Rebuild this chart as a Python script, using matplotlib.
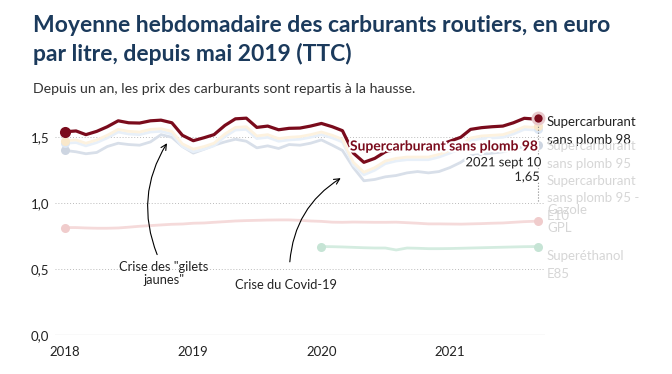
import matplotlib as mpl
import matplotlib.pyplot as plt
import matplotlib.patheffects as pe
import numpy as np
import pandas as pd

plt.rcParams["font.family"] = ["Lato", "DejaVu Sans"]

# %% Data (monthly samples + last week)

dates = list(pd.date_range("2018-01-01", "2021-09-01", freq="MS")) + [pd.Timestamp("2021-09-10")]

sp98 = [1.542, 1.548, 1.52, 1.545, 1.58, 1.625, 1.61, 1.608, 1.625, 1.63, 1.61, 1.515,
        1.474, 1.497, 1.52, 1.59, 1.64, 1.645, 1.575, 1.585, 1.557, 1.568, 1.57, 1.585,
        1.605, 1.58, 1.55, 1.38, 1.31, 1.34, 1.39, 1.41, 1.42, 1.42, 1.42, 1.44,
        1.47, 1.50, 1.56, 1.573, 1.58, 1.585, 1.61, 1.644, 1.638, 1.65]
sp95 = [1.475, 1.48, 1.455, 1.48, 1.515, 1.56, 1.545, 1.54, 1.56, 1.565, 1.545, 1.45,
        1.41, 1.43, 1.455, 1.525, 1.575, 1.58, 1.51, 1.52, 1.49, 1.50, 1.505, 1.52,
        1.54, 1.515, 1.485, 1.31, 1.235, 1.27, 1.32, 1.34, 1.35, 1.35, 1.35, 1.37,
        1.40, 1.435, 1.495, 1.51, 1.515, 1.52, 1.545, 1.58, 1.575, 1.585]
e10 = [1.455, 1.46, 1.435, 1.46, 1.495, 1.54, 1.525, 1.52, 1.54, 1.545, 1.525, 1.43,
       1.39, 1.41, 1.435, 1.505, 1.555, 1.56, 1.49, 1.50, 1.47, 1.48, 1.485, 1.50,
       1.52, 1.495, 1.465, 1.29, 1.215, 1.25, 1.30, 1.32, 1.33, 1.33, 1.33, 1.35,
       1.38, 1.415, 1.475, 1.49, 1.495, 1.50, 1.525, 1.56, 1.555, 1.565]
gazole = [1.40, 1.39, 1.375, 1.385, 1.43, 1.455, 1.445, 1.44, 1.465, 1.52, 1.50, 1.43,
          1.38, 1.41, 1.44, 1.465, 1.485, 1.47, 1.42, 1.435, 1.415, 1.445, 1.44, 1.455,
          1.48, 1.44, 1.40, 1.27, 1.17, 1.18, 1.20, 1.21, 1.23, 1.24, 1.23, 1.24,
          1.27, 1.31, 1.36, 1.37, 1.38, 1.39, 1.41, 1.43, 1.43, 1.44]
gpl = [0.815, 0.815, 0.812, 0.81, 0.81, 0.812, 0.818, 0.825, 0.83, 0.835, 0.84, 0.842,
       0.848, 0.85, 0.855, 0.86, 0.865, 0.868, 0.87, 0.872, 0.873, 0.873, 0.87, 0.865,
       0.862, 0.856, 0.855, 0.857, 0.856, 0.855, 0.855, 0.856, 0.852, 0.848, 0.843, 0.843,
       0.842, 0.841, 0.843, 0.845, 0.848, 0.85, 0.855, 0.86, 0.863, 0.866]
# E85 only published from 2020
e85 = [0.671, 0.67, 0.668, 0.665, 0.662, 0.66, 0.66, 0.645, 0.66, 0.658, 0.655,
       0.655, 0.656, 0.658, 0.66, 0.662, 0.664, 0.666, 0.668, 0.67, 0.671, 0.671]
e85_dates = dates[24:]

last_label = "2021 sept 10"
last_value = "1,65"

# %% Figure

W, H = 672, 374
fig = plt.figure(figsize=(W / 100, H / 100), dpi=100)
ax = fig.add_axes([55 / W, 39 / H, 490 / W, 225 / H])

faint = [
    (e85_dates, e85, "#d4ece0", "#c6e4d5"),
    (dates, gpl, "#f5dada", "#f0cccc"),
    (dates, gazole, "#d8dfe9", "#cdd5e1"),
    (dates, e10, "#e8f0f9", "#dce7f4"),
    (dates, sp95, "#fdf2df", "#f9e8cb"),
]
for x, y, c, cm in faint:
    ax.plot(x, y, c=c, lw=2, solid_capstyle="round", zorder=2)
    ax.plot([x[0], x[-1]], [y[0], y[-1]], "o", ms=6.5, c=cm, mec="none", zorder=2)

ax.plot(dates, sp98, c="#7a0b1c", lw=2.3, solid_capstyle="round", zorder=4)
ax.plot(dates[0], sp98[0], "o", ms=8, c="#7a0b1c", mec="none", zorder=5)
ax.plot(dates[-1], sp98[-1], "o", ms=8, c="#7a0b1c", mec="#e8c9cc", mew=2, zorder=5)
ax.vlines(dates[-1], 1.02, sp98[-1], colors="#888888", lw=0.8, linestyles=":", zorder=3)

halo = [pe.withStroke(linewidth=3, foreground="white")]
ax.annotate("Supercarburant sans plomb 98", (dates[-1], 1.43), xytext=(0, 0),
            textcoords="offset points", ha="right", va="center", fontsize=10,
            fontweight="bold", color="#7a0b1c", path_effects=halo, zorder=6)
ax.annotate(last_label, (dates[-1], 1.31), xytext=(2, 0), textcoords="offset points",
            ha="right", va="center", fontsize=9.3, color="#222222", path_effects=halo, zorder=6)
ax.annotate(last_value, (dates[-1], 1.20), xytext=(1, 0), textcoords="offset points",
            ha="right", va="center", fontsize=9.3, color="#222222", path_effects=halo, zorder=6)

# events
arrow = dict(arrowstyle="->", color="black", lw=0.8, shrinkA=0, shrinkB=0,
             connectionstyle="arc3,rad=-0.25")
ax.annotate("", xy=(pd.Timestamp("2018-10-18"), 1.455), xytext=(pd.Timestamp("2018-09-20"), 0.61),
            arrowprops=arrow)
ax.text(pd.Timestamp("2018-10-08"), 0.465, 'Crise des "gilets\njaunes"', ha="center",
        va="center", fontsize=9.3, color="#222222", linespacing=1.1)
ax.annotate("", xy=(pd.Timestamp("2020-02-25"), 1.19), xytext=(pd.Timestamp("2019-10-03"), 0.555),
            arrowprops=arrow)
ax.text(pd.Timestamp("2019-09-22"), 0.38, "Crise du Covid-19", ha="center", va="center",
        fontsize=9.3, color="#222222")

ax.set_xlim(pd.Timestamp("2017-12-03"), pd.Timestamp("2021-09-29"))
ax.set_ylim(0, 1.707)
ax.set_yticks([0, 0.5, 1.0, 1.5])
ax.set_yticklabels(["0,0", "0,5", "1,0", "1,5"])
ax.set_xticks(pd.to_datetime(["2018-01-01", "2019-01-01", "2020-01-01", "2021-01-01"]))
ax.set_xticklabels(["2018", "2019", "2020", "2021"])
ax.tick_params(length=0, labelsize=9.5, colors="#222222")
ax.tick_params(axis="y", pad=4)
ax.tick_params(axis="x", pad=8)
for s in ax.spines.values():
    s.set_visible(False)
ax.axhline(0, c="#999999", lw=0.8, zorder=1)
for v in [0.5, 1.0, 1.5]:
    ax.axhline(v, c="#bbbbbb", lw=0.7, ls=(0, (1, 2)), zorder=1)

# right labels
def rtext(y, s, c):
    fig.text(547 / W, 1 - y / H, s, fontsize=9.5, color=c, va="center", ha="left")

rtext(121.5, "Supercarburant", "#222222")
rtext(139.5, "sans plomb 98", "#222222")
light = "#d6d6d6"
rtext(146, "Supercarburant", light)
rtext(163.5, "sans plomb 95", light)
rtext(181, "Supercarburant", light)
rtext(198.5, "sans plomb 95 -", light)
rtext(216.5, "E10", light)
rtext(210, "Gazole", light)
rtext(227.5, "GPL", light)
rtext(256, "Superéthanol", light)
rtext(273.5, "E85", light)

fig.text(33 / W, 1 - 32 / H, "Moyenne hebdomadaire des carburants routiers, en euro",
         fontsize=16.5, fontweight="bold", color="#1b3a5c", va="baseline")
fig.text(33 / W, 1 - 61 / H, "par litre, depuis mai 2019 (TTC)",
         fontsize=16.5, fontweight="bold", color="#1b3a5c", va="baseline")
fig.text(33 / W, 1 - 93 / H, "Depuis un an, les prix des carburants sont repartis à la hausse.",
         fontsize=10.2, color="#333333", va="baseline")

fig.savefig("out.png", dpi=100)
